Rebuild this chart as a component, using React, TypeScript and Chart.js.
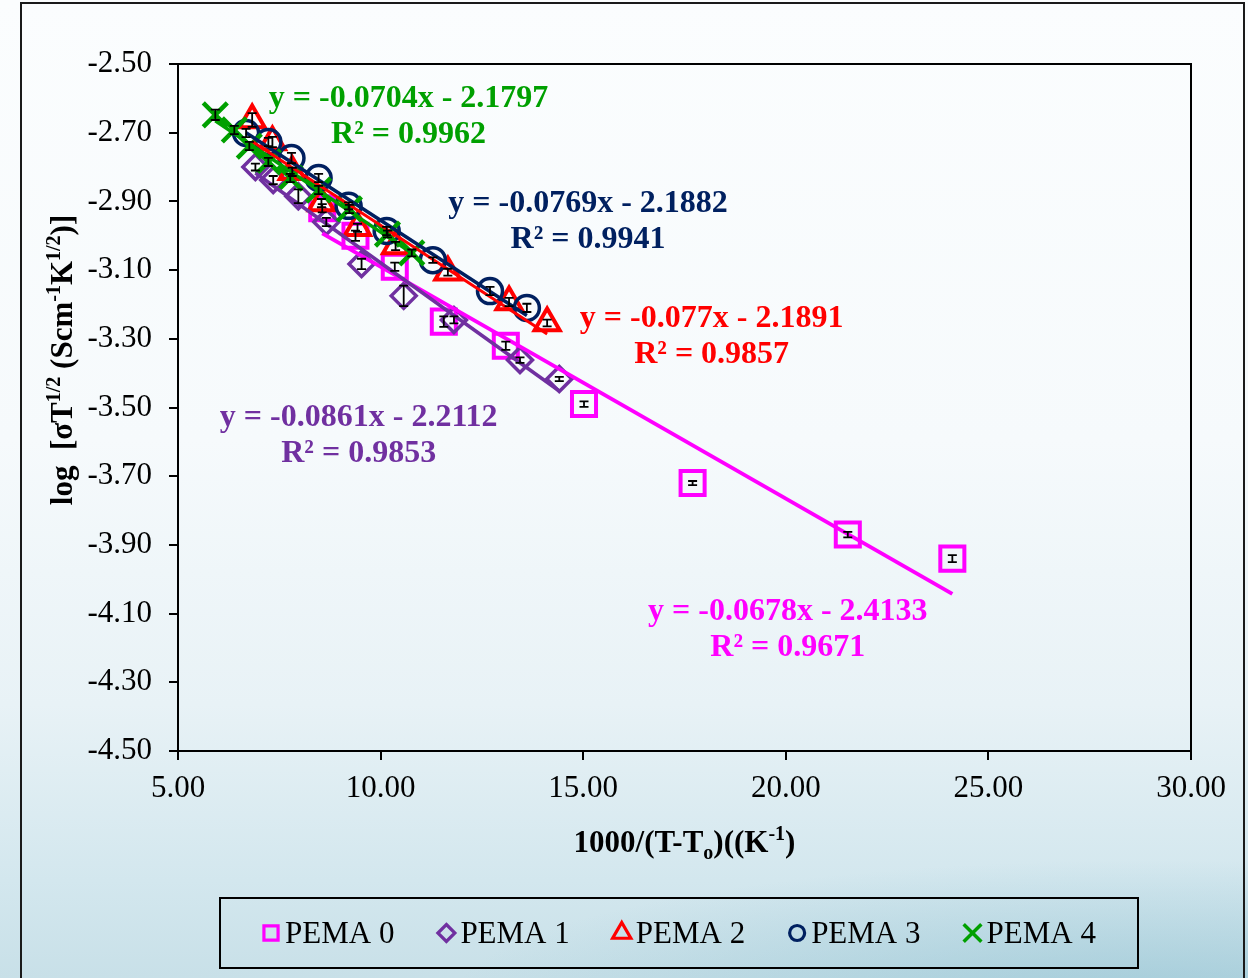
import React, { useEffect, useRef } from 'react';
import { Chart, registerables } from 'chart.js';

Chart.register(...registerables);

const FONT = "'Liberation Serif', 'Times New Roman', serif";

// ---------- data ----------
const seriesLabels = ['PEMA 0', 'PEMA 1', 'PEMA 2', 'PEMA 3', 'PEMA 4'];

const pema0X = [8.56, 9.38, 10.35, 11.56, 13.09, 15.02, 17.7, 21.53, 24.11];
const pema0Y = [-2.92, -3.0, -3.09, -3.25, -3.32, -3.49, -3.72, -3.87, -3.94];
const pema0Err = [0.012, 0.015, 0.012, 0.015, 0.012, 0.008, 0.006, 0.008, 0.01];

const pema1X = [6.91, 7.35, 7.97, 8.66, 9.53, 10.57, 11.81, 13.44, 14.41];
const pema1Y = [-2.8, -2.838, -2.885, -2.96, -3.082, -3.175, -3.245, -3.362, -3.417];
const pema1Err = [0.01, 0.012, 0.02, 0.012, 0.015, 0.03, 0.01, 0.008, 0.006];

const pema2X = [6.83, 7.33, 7.82, 8.54, 9.43, 10.37, 11.66, 13.17, 14.11];
const pema2Y = [-2.663, -2.727, -2.814, -2.905, -2.977, -3.03, -3.106, -3.193, -3.254];
const pema2Err = [0.02, 0.015, 0.012, 0.012, 0.012, 0.012, 0.01, 0.012, 0.01];

const pema3X = [6.68, 7.23, 7.8, 8.47, 9.21, 10.15, 11.29, 12.7, 13.61];
const pema3Y = [-2.701, -2.727, -2.774, -2.832, -2.913, -2.986, -3.071, -3.161, -3.21];
const pema3Err = [0.012, 0.012, 0.015, 0.012, 0.01, 0.012, 0.008, 0.012, 0.012];

const pema4X = [5.92, 6.39, 6.76, 7.23, 7.77, 8.47, 9.23, 10.17, 10.77];
const pema4Y = [-2.648, -2.692, -2.739, -2.785, -2.832, -2.867, -2.922, -2.995, -3.05];
const pema4Err = [0.015, 0.012, 0.012, 0.012, 0.012, 0.012, 0.012, 0.01, 0.01];

const fitEquations = [
  'y = -0.0678x - 2.4133',
  'y = -0.0861x - 2.2112',
  'y = -0.077x - 2.1891',
  'y = -0.0769x - 2.1882',
  'y = -0.0704x - 2.1797',
];
const fitR2 = ['R² = 0.9671', 'R² = 0.9853', 'R² = 0.9857', 'R² = 0.9941', 'R² = 0.9962'];

const xTitleParts = [
  { t: '1000/(T-T' },
  { t: 'o', sub: true },
  { t: ')((K' },
  { t: '-1', sup: true },
  { t: ')' },
];
const yTitleParts = [
  { t: 'log  [σT' },
  { t: '1/2', sup: true },
  { t: ' (Scm' },
  { t: '-1', sup: true },
  { t: 'K' },
  { t: '1/2', sup: true },
  { t: ')]' },
];

// ---------- styles / layout ----------
const seriesColors = ['#ff00ff', '#7030a0', '#ff0000', '#002060', '#00a000'];
const markerShapes = ['rect', 'rectRot', 'triangle', 'circle', 'crossRot'];
const markerRadius = [17, 12.5, 14.5, 12.5, 17];
const markerLineWidth = [4, 3.5, 4, 3.5, 4.5];
const trendLineWidth = [4, 3.5, 3, 3.5, 3.5];
const legendMarkerRadius = [10, 8.5, 10.5, 7.5, 12.5];
const labelAnchors = [
  { x: 20.05, y: -4.095 },
  { x: 9.46, y: -3.53 },
  { x: 18.17, y: -3.243 },
  { x: 15.12, y: -2.906 },
  { x: 10.69, y: -2.6 },
];

const allX = [pema0X, pema1X, pema2X, pema3X, pema4X];
const allY = [pema0Y, pema1Y, pema2Y, pema3Y, pema4Y];
const allErr = [pema0Err, pema1Err, pema2Err, pema3Err, pema4Err];

function linFit(xs: number[], ys: number[]) {
  const n = xs.length;
  let sx = 0, sy = 0, sxx = 0, sxy = 0;
  for (let i = 0; i < n; i++) {
    sx += xs[i]; sy += ys[i]; sxx += xs[i] * xs[i]; sxy += xs[i] * ys[i];
  }
  const slope = (n * sxy - sx * sy) / (n * sxx - sx * sx);
  const intercept = (sy - slope * sx) / n;
  return { slope, intercept };
}

function markerPath(ctx: CanvasRenderingContext2D, shape: string, x: number, y: number, r: number) {
  ctx.beginPath();
  if (shape === 'rect') {
    const s = r * Math.SQRT1_2;
    ctx.rect(x - s, y - s, 2 * s, 2 * s);
  } else if (shape === 'rectRot') {
    ctx.moveTo(x, y - r); ctx.lineTo(x + r, y); ctx.lineTo(x, y + r); ctx.lineTo(x - r, y); ctx.closePath();
  } else if (shape === 'triangle') {
    for (let k = 0; k < 3; k++) {
      const a = k * (2 * Math.PI / 3);
      const px = x + Math.sin(a) * r, py = y - Math.cos(a) * r;
      if (k === 0) ctx.moveTo(px, py); else ctx.lineTo(px, py);
    }
    ctx.closePath();
  } else if (shape === 'circle') {
    ctx.arc(x, y, r, 0, Math.PI * 2);
  } else {
    const d = r * Math.SQRT1_2;
    ctx.moveTo(x - d, y - d); ctx.lineTo(x + d, y + d);
    ctx.moveTo(x + d, y - d); ctx.lineTo(x - d, y + d);
  }
  ctx.stroke();
}

function drawRich(ctx: CanvasRenderingContext2D, parts: any[], cx: number, cy: number, size: number) {
  const small = Math.round(size * 0.65);
  const fontFor = (p: any) => `bold ${p.sup || p.sub ? small : size}px ${FONT}`;
  let total = 0;
  parts.forEach((p) => { ctx.font = fontFor(p); total += ctx.measureText(p.t).width; });
  let x = cx - total / 2;
  ctx.textAlign = 'left';
  ctx.textBaseline = 'alphabetic';
  parts.forEach((p) => {
    ctx.font = fontFor(p);
    const dy = p.sup ? -size * 0.4 : p.sub ? size * 0.22 : 0;
    ctx.fillText(p.t, x, cy + dy);
    x += ctx.measureText(p.t).width;
  });
}

const decorPlugin = {
  id: 'decor',
  afterDatasetsDraw(chart: any) {
    const ctx = chart.ctx as CanvasRenderingContext2D;
    const xs = chart.scales.x, ys = chart.scales.y;
    // error bars
    ctx.save();
    ctx.strokeStyle = '#000';
    ctx.lineWidth = 1.8;
    for (let i = 0; i < 5; i++) {
      for (let j = 0; j < allX[i].length; j++) {
        const px = xs.getPixelForValue(allX[i][j]);
        const top = ys.getPixelForValue(allY[i][j] + allErr[i][j]);
        const bot = ys.getPixelForValue(allY[i][j] - allErr[i][j]);
        ctx.beginPath();
        ctx.moveTo(px, top); ctx.lineTo(px, bot);
        ctx.moveTo(px - 4.5, top); ctx.lineTo(px + 4.5, top);
        ctx.moveTo(px - 4.5, bot); ctx.lineTo(px + 4.5, bot);
        ctx.stroke();
      }
    }
    ctx.restore();
  },
  afterDraw(chart: any) {
    const ctx = chart.ctx as CanvasRenderingContext2D;
    const a = chart.chartArea;
    const xs = chart.scales.x, ys = chart.scales.y;
    ctx.save();
    // plot frame
    ctx.strokeStyle = '#000';
    ctx.lineWidth = 2;
    ctx.strokeRect(a.left, a.top, a.right - a.left, a.bottom - a.top);

    // equation labels
    ctx.textAlign = 'center';
    ctx.textBaseline = 'middle';
    ctx.font = `bold 32px ${FONT}`;
    for (let i = 0; i < 5; i++) {
      const px = xs.getPixelForValue(labelAnchors[i].x);
      const py = ys.getPixelForValue(labelAnchors[i].y);
      ctx.fillStyle = seriesColors[i];
      ctx.fillText(fitEquations[i], px, py);
      ctx.fillText(fitR2[i], px, py + 36);
    }

    // axis titles
    ctx.fillStyle = '#000';
    drawRich(ctx, xTitleParts, (a.left + a.right) / 2, 852, 31);
    ctx.save();
    ctx.translate(72, 360);
    ctx.rotate(-Math.PI / 2);
    drawRich(ctx, yTitleParts, 0, 0, 31);
    ctx.restore();

    // legend
    ctx.lineWidth = 2;
    ctx.strokeStyle = '#000';
    ctx.strokeRect(220, 898, 918, 70);
    ctx.font = `31px ${FONT}`;
    ctx.textAlign = 'left';
    ctx.textBaseline = 'middle';
    let cursor = 262;
    for (let i = 0; i < 5; i++) {
      ctx.strokeStyle = seriesColors[i];
      ctx.lineWidth = i === 4 ? 3.5 : 3.2;
      markerPath(ctx, markerShapes[i], cursor + 9, 933, legendMarkerRadius[i]);
      ctx.fillStyle = '#000';
      ctx.fillText(seriesLabels[i], cursor + 23, 935);
      cursor += 23 + ctx.measureText(seriesLabels[i]).width + 43;
    }
    ctx.restore();
  },
};

export default function App() {
  const ref = useRef<HTMLCanvasElement | null>(null);
  useEffect(() => {
    if (!ref.current) return;
    const markerDatasets = seriesLabels.map((label, i) => ({
      type: 'scatter',
      label,
      data: allX[i].map((x, j) => ({ x, y: allY[i][j] })),
      pointStyle: markerShapes[i],
      pointRadius: markerRadius[i],
      pointHoverRadius: markerRadius[i],
      pointBorderWidth: markerLineWidth[i],
      borderWidth: markerLineWidth[i],
      borderColor: seriesColors[i],
      pointBorderColor: seriesColors[i],
      backgroundColor: 'rgba(0,0,0,0)',
      pointBackgroundColor: 'rgba(0,0,0,0)',
      showLine: false,
      order: 20 - i,
    }));
    const trendDatasets = seriesLabels.map((label, i) => {
      const f = linFit(allX[i], allY[i]);
      const x0 = Math.min(...allX[i]);
      const x1 = Math.max(...allX[i]);
      return {
        type: 'scatter',
        label: label + ' trend',
        data: [
          { x: x0, y: f.slope * x0 + f.intercept },
          { x: x1, y: f.slope * x1 + f.intercept },
        ],
        showLine: true,
        borderColor: seriesColors[i],
        borderWidth: trendLineWidth[i],
        pointRadius: 0,
        pointHoverRadius: 0,
        fill: false,
        order: 10 - i,
      };
    });
    const chart = new Chart(ref.current, {
      type: 'scatter',
      data: { datasets: [...markerDatasets, ...trendDatasets] as any },
      options: {
        responsive: false,
        animation: false,
        devicePixelRatio: 1,
        events: [],
        layout: { padding: { left: 0, top: 64, right: 57, bottom: 0 } },
        plugins: { legend: { display: false }, tooltip: { enabled: false } },
        scales: {
          x: {
            type: 'linear',
            min: 5,
            max: 30,
            ticks: {
              stepSize: 5,
              color: '#000',
              padding: 10,
              maxRotation: 0,
              autoSkip: false,
              font: { family: FONT, size: 31 },
              callback: (v: any) => Number(v).toFixed(2),
            },
            grid: { display: true, drawOnChartArea: false, drawTicks: true, tickLength: 9, color: '#000', lineWidth: 2 },
            border: { display: true, color: '#000', width: 2 },
            afterFit: (s: any) => { s.height = 227; },
          },
          y: {
            type: 'linear',
            min: -4.5,
            max: -2.5,
            ticks: {
              stepSize: 0.2,
              color: '#000',
              padding: 17,
              autoSkip: false,
              font: { family: FONT, size: 31 },
              callback: (v: any) => Number(v).toFixed(2),
            },
            grid: { display: true, drawOnChartArea: false, drawTicks: true, tickLength: 9, color: '#000', lineWidth: 2 },
            border: { display: true, color: '#000', width: 2 },
            afterFit: (s: any) => { s.width = 178; },
          },
        },
      } as any,
      plugins: [decorPlugin],
    });
    return () => chart.destroy();
  }, []);

  return (
    <div
      style={{
        position: 'fixed',
        left: 0,
        top: 0,
        width: 1248,
        height: 978,
        overflow: 'hidden',
        background:
          'radial-gradient(ellipse 700px 140px at 1150px 1000px, rgba(120,180,200,0.45), rgba(120,180,200,0) 100%), linear-gradient(to bottom, #fbfdfe 0%, #f6fafc 45%, #e8f2f6 72%, #d3e7ee 90%, #c8e0e8 100%)',
      }}
    >
      <div
        style={{
          position: 'absolute',
          left: 20,
          top: 2,
          width: 1225,
          height: 1100,
          border: '2px solid #1a1a1a',
          boxSizing: 'border-box',
        }}
      />
      <canvas ref={ref} width={1248} height={978} style={{ position: 'absolute', left: 0, top: 0, display: 'block' }} />
    </div>
  );
}
